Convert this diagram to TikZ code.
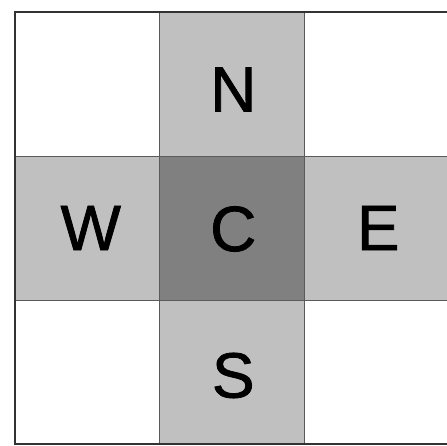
\documentclass[tikz,border=0pt]{standalone}
\usepackage{fontspec}
\setmainfont{Liberation Sans}
\newfontfamily\letterfont[FakeBold=1.2]{Liberation Sans}
\usepackage{tikz}
\usetikzlibrary{positioning,calc}
\definecolor{lightcell}{HTML}{C0C0C0}
\definecolor{darkcell}{HTML}{808080}
\definecolor{edge}{HTML}{5A5A5A}
\tikzset{
  cell/.style={rectangle,draw=edge,line width=0.8pt,minimum width=144.5pt,
    minimum height=144pt,inner sep=0pt,outer sep=0pt},
  letter/.style={font=\letterfont\fontsize{64}{64}\selectfont,inner sep=0pt,text=black},
}

\begin{document}
\begin{tikzpicture}
  \useasboundingbox (0,0) rectangle (446pt,446pt);
  \node[cell,fill=darkcell] (c) at (231.75pt,218pt) {};
  \node[cell,fill=lightcell,above=0pt of c] (n) {};
  \node[cell,fill=lightcell,below=0pt of c] (s) {};
  \node[cell,fill=lightcell,left=0pt of c] (w) {};
  \node[cell,fill=lightcell,right=0pt of c] (e) {};
  % outer frame
  \draw[line width=1.6pt,draw=black!80] (w.west |- n.north) rectangle (e.east |- s.south);
  \node[letter] (ln) at ($(n)+(1.5pt,-5.5pt)$) {N};
  \node[letter] (lw) at ($(w)+(3.5pt,0pt)$) {W};
  \node[letter] (lc) at ($(c)+(1.5pt,-1pt)$) {C};
  \node[letter] (le) at ($(e)+(2pt,0pt)$) {E};
  \node[letter] (ls) at ($(s)+(1.5pt,-3.5pt)$) {S};
\end{tikzpicture}
\end{document}
